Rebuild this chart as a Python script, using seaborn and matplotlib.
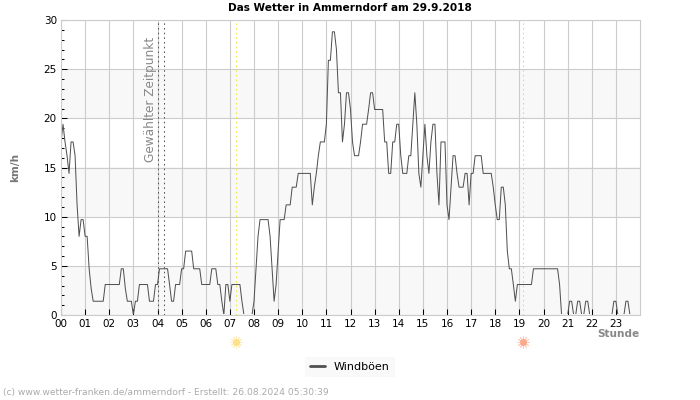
import matplotlib
matplotlib.use("Agg")
import matplotlib.pyplot as plt
from matplotlib.patches import Rectangle
import seaborn as sns
import numpy as np
import pandas as pd

# gust values per 5 minutes, one list per hour
h00 = [17.6, 19.4, 17.6, 16.2, 14.4, 17.6, 17.6, 16.2, 11.2, 8.0, 9.7, 9.7]
h01 = [8.0, 8.0, 4.7, 2.7, 1.4, 1.4, 1.4, 1.4, 1.4, 1.4, 3.1, 3.1]
h02 = [3.1, 3.1, 3.1, 3.1, 3.1, 3.1, 4.7, 4.7, 2.7, 1.4, 1.4, 1.4]
h03 = [0.0, 1.4, 1.4, 3.1, 3.1, 3.1, 3.1, 3.1, 1.4, 1.4, 1.4, 3.1]
h04 = [3.1, 4.7, 4.7, 4.7, 4.7, 4.7, 3.1, 1.4, 1.4, 3.1, 3.1, 3.1]
h05 = [4.7, 4.7, 6.5, 6.5, 6.5, 6.5, 4.7, 4.7, 4.7, 4.7, 3.1, 3.1]
h06 = [3.1, 3.1, 3.1, 4.7, 4.7, 4.7, 3.1, 3.1, 1.4, 0.0, 3.1, 3.1]
h07 = [1.4, 3.1, 3.1, 3.1, 3.1, 3.1, 1.4, 0.0, 0.0, 0.0, 0.0, 0.0]
h08 = [1.4, 4.7, 8.0, 9.7, 9.7, 9.7, 9.7, 9.7, 8.0, 4.7, 1.4, 3.1]
h09 = [6.5, 9.7, 9.7, 9.7, 11.2, 11.2, 11.2, 13.0, 13.0, 13.0, 14.4, 14.4]
h10 = [14.4, 14.4, 14.4, 14.4, 14.4, 11.2, 13.0, 14.4, 16.2, 17.6, 17.6, 17.6]
h11 = [19.4, 25.9, 25.9, 28.8, 28.8, 27.0, 22.6, 22.6, 17.6, 19.4, 22.6, 22.6]
h12 = [20.9, 17.6, 16.2, 16.2, 16.2, 17.6, 19.4, 19.4, 19.4, 20.9, 22.6, 22.6]
h13 = [20.9, 20.9, 20.9, 20.9, 20.9, 17.6, 17.6, 14.4, 14.4, 17.6, 17.6, 19.4]
h14 = [19.4, 16.2, 14.4, 14.4, 14.4, 16.2, 16.2, 19.4, 22.6, 19.4, 14.4, 13.0]
h15 = [16.2, 19.4, 16.2, 14.4, 17.6, 19.4, 19.4, 14.4, 11.2, 17.6, 17.6, 17.6]
h16 = [11.2, 9.7, 13.0, 16.2, 16.2, 14.4, 13.0, 13.0, 13.0, 14.4, 14.4, 11.2]
h17 = [14.4, 14.4, 16.2, 16.2, 16.2, 16.2, 14.4, 14.4, 14.4, 14.4, 14.4, 13.0]
h18 = [11.2, 9.7, 9.7, 13.0, 13.0, 11.2, 6.5, 4.7, 4.7, 3.1, 1.4, 3.1]
h19 = [3.1, 3.1, 3.1, 3.1, 3.1, 3.1, 3.1, 4.7, 4.7, 4.7, 4.7, 4.7]
h20 = [4.7, 4.7, 4.7, 4.7, 4.7, 4.7, 4.7, 4.7, 3.1, 0.0, 0.0, 0.0]
h21 = [0.0, 1.4, 1.4, 0.0, 0.0, 1.4, 1.4, 0.0, 0.0, 1.4, 1.4, 0.0]
h22 = [0.0, 0.0, 0.0, 0.0, 0.0, 0.0, 0.0, 0.0, 0.0, 0.0, 0.0, 1.4]
h23 = [1.4, 0.0, 0.0, 0.0, 0.0, 1.4, 1.4, 0.0, 0.0, 0.0, 0.0, 0.0]

hour_lists = [h00, h01, h02, h03, h04, h05, h06, h07, h08, h09, h10, h11,
              h12, h13, h14, h15, h16, h17, h18, h19, h20, h21, h22, h23]
hour_labels = [f"{h:02d}" for h in range(24)]

selected_times = [4.0, 4.25]
sunrise = 7.27
sunset = 19.14

gust = [v for hour in hour_lists for v in hour]
df = pd.DataFrame({"hour": np.arange(len(gust)) / 12, "gust": gust})

sns.set_theme(style="white")
plt.rcParams["font.family"] = ["DejaVu Sans"]

fig = plt.figure(figsize=(7, 4), dpi=100)
ax = fig.add_axes([61 / 700, 1 - 315 / 400, 579 / 700, 295 / 400])

# alternating bands behind the grid
for low in [0, 10, 20]:
    ax.axhspan(low, low + 5, color="#f8f8f8", lw=0, zorder=0)
ax.grid(True, which="major", color="#cccccc", lw=0.8, zorder=1)
ax.set_axisbelow(True)

sns.lineplot(data=df, x="hour", y="gust", ax=ax, color="#505050", lw=0.72,
             estimator=None, label="Windböen", legend=False, zorder=2.2)
# zero values do not show in the reference, so clip just above the axis
ax.lines[-1].set_clip_path(Rectangle((0, 0.1), 24, 30, transform=ax.transData))

for t in selected_times:
    ax.axvline(t, color="#555555", lw=0.75, ls=(0, (1.5, 3)), zorder=2)
ax.axvline(sunrise, color="#f5e63c", lw=0.75, ls=(0, (1.5, 3)), zorder=2)
ax.axvline(sunset, color="#f5c98a", lw=0.75, ls=(0, (1.5, 3)), zorder=2)

ax.set_xlim(0, 24)
ax.set_ylim(0, 30)
ax.set_xticks(range(24))
ax.set_xticklabels(hour_labels)
ax.set_yticks(range(0, 31, 5))
ax.set_yticks(range(0, 31), minor=True)
ax.tick_params(axis="both", which="major", direction="in", length=4, width=0.75,
               color="black", labelsize=7.5, labelcolor="black", pad=3,
               bottom=True, left=True)
ax.tick_params(axis="y", which="minor", direction="in", length=2, width=0.75,
               color="black", left=True)
ax.set_xlabel("")
ax.set_ylabel("")
for spine in ax.spines.values():
    spine.set_color("#cccccc")
    spine.set_linewidth(0.8)

ax.text(3.72, 15.6, "Gewählter Zeitpunkt", rotation=90, color="#888888",
        fontsize=8.7, ha="center", va="bottom")

# sun icons under the axis
trans = ax.get_xaxis_transform()
for t, col, ray in [(sunrise, "#fde08a", "#feeebb"), (sunset, "#fda88a", "#fecdbb")]:
    ax.plot(t, -0.09, marker=(12, 2, 0), ms=9, mew=0.7, mec=ray, transform=trans,
            clip_on=False)
    ax.plot(t, -0.09, marker="o", ms=5, color=col, mew=0, transform=trans,
            clip_on=False)

fig.text(350 / 700, 1 - 8 / 400, "Das Wetter in Ammerndorf am 29.9.2018",
         fontsize=7.6, fontweight="bold", color="black", ha="center", va="center")
fig.text(15 / 700, 1 - 167 / 400, "km/h", rotation=90, fontsize=7.6, fontweight="bold",
         color="#777777", ha="center", va="center")
fig.text(639 / 700, 1 - 334 / 400, "Stunde", fontsize=7.6, fontweight="bold",
         color="#888888", ha="right", va="center")
fig.text(3 / 700, 1 - 393 / 400,
         "(c) www.wetter-franken.de/ammerndorf - Erstellt: 26.08.2024 05:30:39",
         fontsize=6.6, color="#aaaaaa", ha="left", va="center")

handles, labels = ax.get_legend_handles_labels()
leg = fig.legend(handles, labels, loc="center", bbox_to_anchor=(350 / 700, 1 - 367 / 400),
                 fontsize=8, frameon=True, fancybox=False, handlelength=1.3,
                 borderpad=0.45, labelcolor="black")
leg.get_frame().set_facecolor("#f8f8f8")
leg.get_frame().set_edgecolor("none")
leg.legend_handles[0].set_linewidth(2)

fig.savefig("out.png", dpi=100)
